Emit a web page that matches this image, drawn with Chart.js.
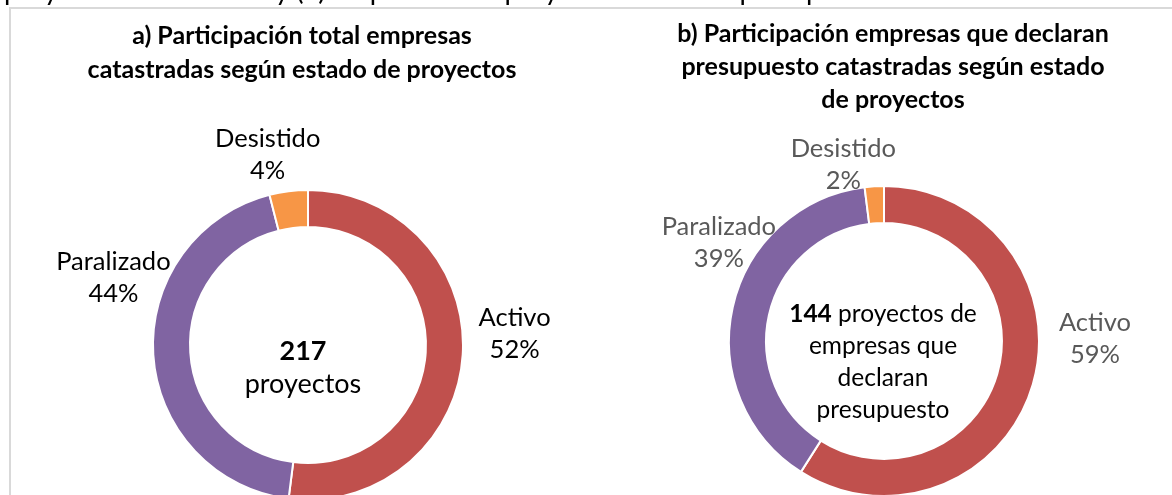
<!DOCTYPE html>
<html><head><meta charset="utf-8">
<script src="https://cdn.jsdelivr.net/npm/chart.js@4.4.0/dist/chart.umd.min.js"></script>
<style>
html,body{margin:0;padding:0;width:1172px;height:495px;overflow:hidden;background:#fff;}
.frame{position:absolute;left:9px;top:7px;width:1200px;height:600px;border:2px solid #d9d9d9;box-sizing:border-box;}
canvas{position:absolute;left:0;top:0;}
</style></head><body>
<div class="frame"></div>
<canvas id="chartA" width="1172" height="600"></canvas>
<canvas id="chartB" width="1172" height="600"></canvas>
<script>
const categories = ['Activo', 'Paralizado', 'Desistido'];
const totalShares = [52, 44, 4];
const budgetShares = [59, 39, 2];
const totalProjects = 217;
const budgetProjects = 144;
const sliceColors = ['#C0504D', '#8064A2', '#F79646'];
const titleA = ['a) Participación total empresas', 'catastradas según estado de proyectos'];
const titleB = ['b) Participación empresas que declaran', 'presupuesto catastradas según estado', 'de proyectos'];
const captionText = 'proyectos catastrados y (b) empresas con proyectos declaran presupuesto';
const centerA = [[{t: String(totalProjects), b: true}], [{t: 'proyectos'}]];
const centerB = [[{t: String(budgetProjects), b: true}, {t: ' proyectos de'}], [{t: 'empresas que'}], [{t: 'declaran'}], [{t: 'presupuesto'}]];

const FONT = 'Lato, Carlito, Calibri, sans-serif';

const annotPlugin = {
  id: 'annot',
  afterDatasetsDraw(chart, args, o) {
    const ctx = chart.ctx;
    const arcs = chart.getDatasetMeta(0).data;
    const cx = arcs[0].x, cy = arcs[0].y;
    ctx.save();
    ctx.textBaseline = 'alphabetic';
    if (o.caption) {
      // size the clipped caption line so that it spans the same width as in the source
      ctx.font = '20px ' + FONT;
      const w20 = ctx.measureText(o.caption).width;
      const size = (20 * o.captionWidth / w20).toFixed(1);
      ctx.font = size + 'px ' + FONT;
      ctx.fillStyle = '#000';
      ctx.textAlign = 'left';
      ctx.fillText(o.caption, o.captionX, o.captionY);
    }
    ctx.font = 'bold ' + o.titleSize + 'px ' + FONT;
    ctx.textAlign = 'center';
    ctx.fillStyle = '#000';
    o.title.forEach((line, i) => ctx.fillText(line, o.titleX, o.titleY + i * o.titleLH));

    const data = chart.data.datasets[0].data;
    ctx.font = o.labelSize + 'px ' + FONT;
    ctx.fillStyle = o.labelColor;
    arcs.forEach((arc, i) => {
      const p = arc.getProps(['x', 'y', 'startAngle', 'endAngle', 'outerRadius'], true);
      const mid = (p.startAngle + p.endAngle) / 2;
      const r = p.outerRadius + o.labelGap;
      const lx = p.x + Math.cos(mid) * r + o.nudges[i][0];
      const ly = p.y + Math.sin(mid) * r + o.nudges[i][1];
      ctx.fillText(chart.data.labels[i], lx, ly - 8);
      ctx.fillText(data[i] + '%', lx, ly + 24);
    });

    ctx.fillStyle = '#000';
    ctx.textAlign = 'left';
    o.center.forEach((runs, i) => {
      let total = 0;
      const widths = runs.map(r => {
        ctx.font = (r.b ? 'bold ' : '') + o.centerSize + 'px ' + FONT;
        const w = ctx.measureText(r.t).width;
        total += w;
        return w;
      });
      let x = cx + o.centerDx - total / 2;
      runs.forEach((r, k) => {
        ctx.font = (r.b ? 'bold ' : '') + o.centerSize + 'px ' + FONT;
        ctx.fillText(r.t, x, cy + o.centerY0 + i * o.centerLH);
        x += widths[k];
      });
    });
    ctx.restore();
  }
};

function makeChart(id, shares, padding, annot) {
  return new Chart(document.getElementById(id), {
    type: 'doughnut',
    data: {
      labels: categories,
      datasets: [{
        data: shares,
        backgroundColor: sliceColors,
        borderColor: '#ffffff',
        borderWidth: 2
      }]
    },
    options: {
      responsive: false,
      animation: false,
      events: [],
      radius: 155,
      cutout: '76.1%',
      layout: {padding: padding},
      plugins: {legend: {display: false}, tooltip: {enabled: false}, annot: annot}
    },
    plugins: [annotPlugin]
  });
}

makeChart('chartA', totalShares, {left: 154, right: 710, top: 190, bottom: 100}, {
  caption: captionText, captionWidth: 884, captionX: 4, captionY: 0,
  title: titleA, titleSize: 25, titleX: 302, titleY: 44, titleLH: 33.5,
  labelSize: 25.5, labelColor: '#000000', labelGap: 47,
  nudges: [[5, -24], [7, -80], [-15, 10]],
  center: centerA, centerSize: 27, centerDx: -5, centerY0: 15, centerLH: 33
});

makeChart('chartB', budgetShares, {left: 730, right: 134, top: 186, bottom: 104}, {
  caption: null,
  title: titleB, titleSize: 25, titleX: 893, titleY: 42, titleLH: 32.8,
  labelSize: 25.5, labelColor: '#595959', labelGap: 47,
  nudges: [[17, -58], [32, -54], [-28, 26]],
  center: centerB, centerSize: 24.5, centerDx: -1, centerY0: -19, centerLH: 32
});
</script>
</body></html>
